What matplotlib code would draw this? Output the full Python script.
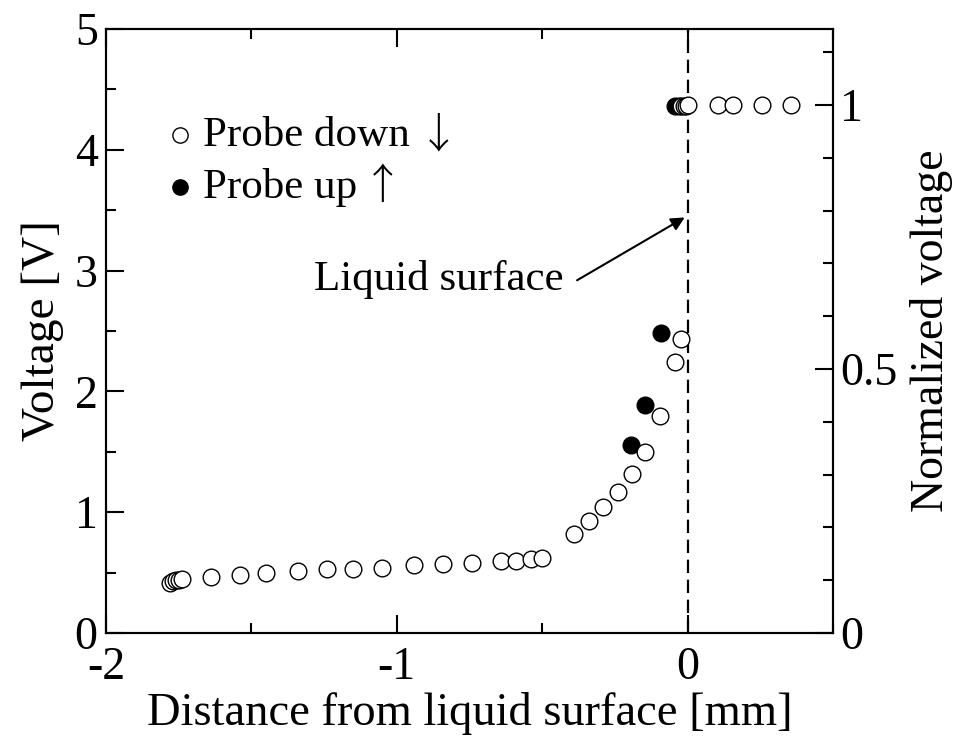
import matplotlib
matplotlib.use('Agg')
import matplotlib.pyplot as plt
from matplotlib.ticker import MultipleLocator

plt.rcParams['font.family'] = ['Liberation Serif', 'DejaVu Serif']

# probe going down (open circles)
x_down = [-1.78, -1.77, -1.76, -1.75, -1.74, -1.64, -1.54, -1.45, -1.34, -1.24,
          -1.15, -1.05, -0.94, -0.84, -0.74, -0.64, -0.59, -0.54, -0.50,
          -0.39, -0.34, -0.29, -0.24, -0.19, -0.145, -0.096, -0.045, -0.024,
          -0.024, -0.014, -0.007, 0.003, 0.103, 0.155, 0.255, 0.355]
v_down = [0.41, 0.43, 0.44, 0.44, 0.45, 0.46, 0.48, 0.50, 0.51, 0.53,
          0.53, 0.54, 0.56, 0.57, 0.58, 0.60, 0.60, 0.61, 0.62,
          0.82, 0.93, 1.04, 1.17, 1.32, 1.50, 1.80, 2.24, 2.43,
          4.36, 4.36, 4.36, 4.37, 4.37, 4.37, 4.37, 4.37]

# probe going up (filled circles)
x_up = [-0.193, -0.145, -0.093, -0.045, -0.03]
v_up = [1.56, 1.89, 2.48, 4.36, 4.36]

v_norm = 4.37  # voltage for normalized = 1

fig = plt.figure(figsize=(9.55, 7.43), dpi=100)
ax = fig.add_axes([106 / 955, 1 - 633 / 743, 727 / 955, 604 / 743])

ax.axvline(0, color='black', lw=1.6, ls=(0, (6, 3)), zorder=1)
ax.plot(x_down, v_down, 'o', ms=12, mfc='white', mec='black', mew=1.0, zorder=3)
ax.plot(x_up, v_up, 'o', ms=12, mfc='black', mec='black', mew=1.0, zorder=2)

ax.set_xlim(-2, 0.5)
ax.set_ylim(0, 5)
ax.xaxis.set_major_locator(MultipleLocator(1))
ax.xaxis.set_minor_locator(MultipleLocator(0.5))
ax.yaxis.set_major_locator(MultipleLocator(1))
ax.yaxis.set_minor_locator(MultipleLocator(0.5))
ax.tick_params(which='both', direction='in', top=True, right=False, width=1.5,
               labelsize=33)
ax.tick_params(axis='x', pad=10)
ax.tick_params(axis='y', pad=6)
ax.tick_params(which='major', length=13)
ax.tick_params(which='minor', length=7)
for s in ax.spines.values():
    s.set_linewidth(1.5)
ax.set_xlabel('Distance from liquid surface [mm]', fontsize=33.5, labelpad=2)
ax.set_ylabel('Voltage [V]', fontsize=34, labelpad=8)
ax.xaxis.set_major_formatter(plt.FuncFormatter(lambda v, p: '%d' % v))

ax2 = ax.twinx()
ax2.set_ylim(0, 5 / v_norm)
ax2.yaxis.set_major_locator(MultipleLocator(0.5))
ax2.yaxis.set_minor_locator(MultipleLocator(0.1))
ax2.yaxis.set_major_formatter(plt.FuncFormatter(lambda v, p: '%g' % v))
ax2.tick_params(which='both', direction='in', width=1.5, labelsize=33, pad=5)
ax2.tick_params(which='major', length=13)
ax2.tick_params(which='minor', length=7)
for s in ax2.spines.values():
    s.set_linewidth(1.5)
ax2.set_ylabel('Normalized voltage', fontsize=33, labelpad=9)

# legend drawn by hand
ax.plot([0.102], [0.824], 'o', ms=11, mfc='white', mec='black', mew=1.0,
        transform=ax.transAxes, clip_on=False)
ax.plot([0.102], [0.738], 'o', ms=11, mfc='black', mec='black', mew=1.0,
        transform=ax.transAxes, clip_on=False)
ax.text(0.134, 0.824, 'Probe down', transform=ax.transAxes, fontsize=31,
        va='center', ha='left')
ax.text(0.134, 0.738, 'Probe up', transform=ax.transAxes, fontsize=31,
        va='center', ha='left')
arrow_font = ['Noto Sans CJK JP', 'DejaVu Sans']
ax.text(0.457, 0.824, '\u2193', transform=ax.transAxes, fontsize=30,
        va='center', ha='center', family=arrow_font, weight='light')
ax.text(0.381, 0.738, '\u2191', transform=ax.transAxes, fontsize=30,
        va='center', ha='center', family=arrow_font, weight='light')

ax.text(-0.427, 2.93, 'Liquid surface', fontsize=31, ha='right', va='center')
ax.annotate('', xy=(-0.01, 3.44), xytext=(-0.38, 2.92),
            arrowprops=dict(arrowstyle='-|>', color='black', lw=1.5,
                            mutation_scale=20, shrinkA=0, shrinkB=0))

fig.savefig('out.png', dpi=100)
